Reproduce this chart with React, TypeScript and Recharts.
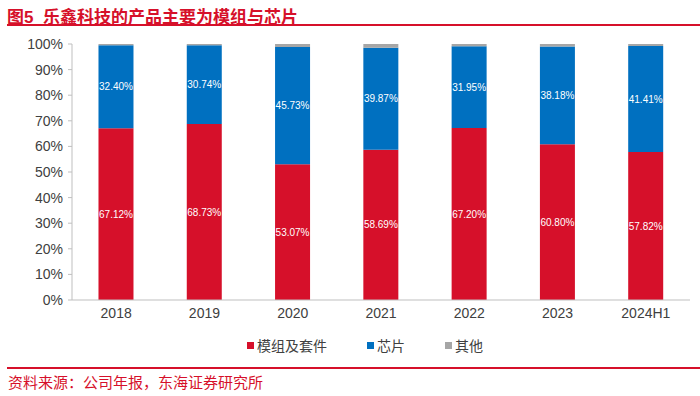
import { Bar, BarChart, LabelList, XAxis, YAxis } from 'recharts';

const years = ['2018', '2019', '2020', '2021', '2022', '2023', '2024H1'];
const modules = [67.12, 68.73, 53.07, 58.69, 67.2, 60.8, 57.82];
const chips = [32.4, 30.74, 45.73, 39.87, 31.95, 38.18, 41.41];
const others = [0.48, 0.53, 1.2, 1.44, 0.85, 1.02, 0.77];
const yTicks = [0, 10, 20, 30, 40, 50, 60, 70, 80, 90, 100];

const data = years.map((y, i) => ({
  name: y,
  modules: modules[i],
  chips: chips[i],
  others: others[i],
}));

const RED = '#d6102a';
const BLUE = '#0070c0';
const GREY = '#a6a6a6';
const FONT = '"Liberation Sans", Arial, "Noto Sans CJK SC", sans-serif';

const legendItems = [
  { label: '模组及套件', color: RED },
  { label: '芯片', color: BLUE },
  { label: '其他', color: GREY },
];

const fmt = (v: any) => `${Number(v).toFixed(2)}%`;

export default function App() {
  return (
    <div style={{ position: 'absolute', left: 0, top: 0, width: 700, height: 396, background: '#fff', fontFamily: FONT }}>
      <div style={{ position: 'absolute', left: 7, top: 3, fontSize: 17, fontWeight: 'bold', color: RED, whiteSpace: 'nowrap' }}>
        图5&nbsp;&nbsp;乐鑫科技的产品主要为模组与芯片
      </div>
      <div style={{ position: 'absolute', left: 7, right: 0, top: 24, height: 2, background: RED }} />
      <BarChart
        width={700}
        height={396}
        data={data}
        margin={{ top: 44, right: 10, left: 12, bottom: 66 }}
        barCategoryGap="30%"
      >
        <XAxis
          dataKey="name"
          tickLine={false}
          tickSize={0}
          tickMargin={8}
          stroke="#bfbfbf"
          tick={{ fill: '#404040', fontSize: 14 }}
        />
        <YAxis
          width={60}
          domain={[0, 100]}
          ticks={yTicks}
          interval={0}
          tickFormatter={(v) => `${v}%`}
          stroke="#bfbfbf"
          tickSize={4}
          tickMargin={5}
          tick={{ fill: '#404040', fontSize: 14 }}
        />
        <Bar dataKey="modules" stackId="a" fill={RED} isAnimationActive={false}>
          <LabelList dataKey="modules" position="center" fill="#fff" fontSize={10} formatter={fmt} />
        </Bar>
        <Bar dataKey="chips" stackId="a" fill={BLUE} isAnimationActive={false}>
          <LabelList dataKey="chips" position="center" fill="#fff" fontSize={10} formatter={fmt} />
        </Bar>
        <Bar dataKey="others" stackId="a" fill={GREY} isAnimationActive={false} />
      </BarChart>
      <div style={{ position: 'absolute', left: 0, top: 335, width: 700, display: 'flex', justifyContent: 'center', gap: 40, fontSize: 14, color: '#404040', marginLeft: 15 }}>
        {legendItems.map((it) => (
          <div key={it.label} style={{ display: 'flex', alignItems: 'center' }}>
            <span style={{ width: 7, height: 7, background: it.color, display: 'inline-block', marginRight: 3 }} />
            <span>{it.label}</span>
          </div>
        ))}
      </div>
      <div style={{ position: 'absolute', left: 7, right: 0, top: 367, height: 2, background: RED }} />
      <div style={{ position: 'absolute', left: 8, top: 371, fontSize: 15, color: RED, whiteSpace: 'nowrap' }}>
        资料来源：公司年报，东海证券研究所
      </div>
    </div>
  );
}
